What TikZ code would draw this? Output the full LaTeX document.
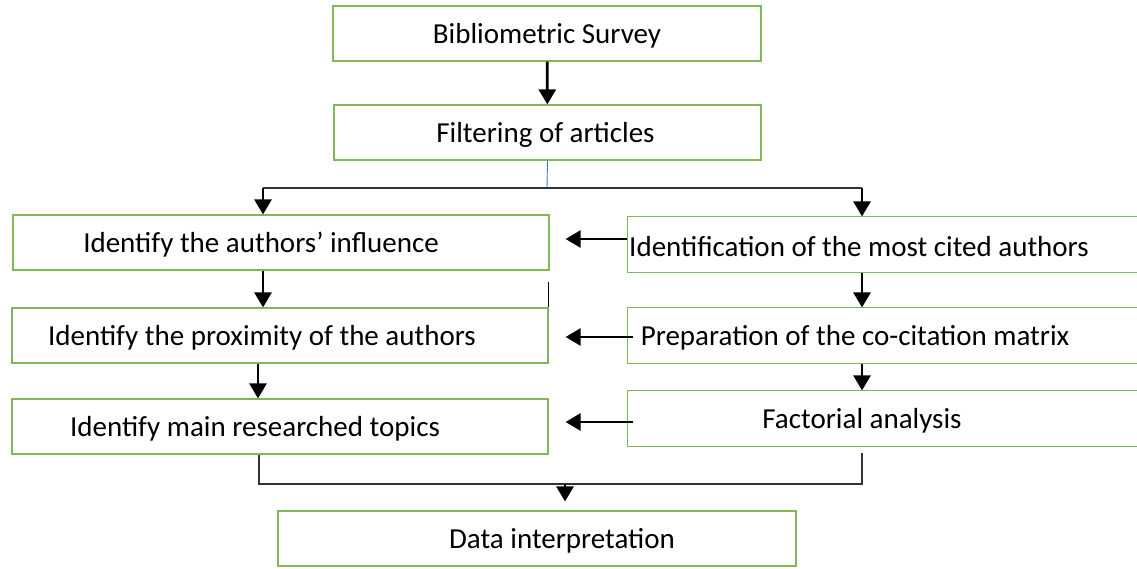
\documentclass[tikz,border=0pt]{standalone}
\usepackage{fontspec}
\setmainfont{Carlito}
\usepackage{tikz}
\usetikzlibrary{arrows.meta, positioning}
\definecolor{boxgreen}{RGB}{128,184,86}
\definecolor{splitblue}{RGB}{68,114,196}
\tikzstyle{stepbox}=[draw=boxgreen, line width=1.2pt, minimum height=55pt, inner sep=0pt, fill=white]
\tikzstyle{openbox}=[stepbox, draw=none]
\tikzstyle{every label}=[font=\fontsize{29}{35}\selectfont, inner sep=0pt, yshift=-2pt]
\tikzstyle{arr}=[line width=2.8pt, -{Triangle[width=17pt,length=15pt]}]
\tikzstyle{link}=[line width=1.3pt, black!80]

\begin{document}
\begin{tikzpicture}[x=1pt,y=-1pt]
\useasboundingbox (0,0) rectangle (1137,569);
\node[stepbox, minimum width=428pt, label={center:Bibliometric Survey}] (survey) at (547,33.5) {};
\node[stepbox, minimum width=427pt, label={[xshift=-2pt]center:Filtering of articles}] (filter) at (547.5,132.5) {};
%left column
\node[stepbox, minimum width=536pt, label={[xshift=-20pt]center:Identify the authors’ influence}] (infl) at (281,242.5) {};
\node[stepbox, minimum width=536pt, label={[xshift=-18pt]center:Identify the proximity of the authors}] (prox) at (280,335.5) {};
\node[stepbox, minimum width=536pt, label={[xshift=-25pt]center:Identify main researched topics}] (topics) at (280,426.5) {};
%right column, open on the right (runs off the page)
\node[openbox, minimum width=510pt, label={[xshift=-24pt]center:Identification of the most cited authors}] (cited) at (883,244.5) {};
\node[openbox, minimum width=510pt, label={[xshift=-28pt]center:Preparation of the co-citation matrix}] (matrix) at (883,335.5) {};
\node[openbox, minimum width=510pt, label={[xshift=-21pt]center:Factorial analysis}] (factor) at (883,418.5) {};
\foreach \b in {cited,matrix,factor}{
  \draw[boxgreen, line width=1.2pt] (\b.north east) -- (\b.north west) -- (\b.south west) -- (\b.south east);
}
\node[stepbox, minimum width=518pt, label={[xshift=25pt]center:Data interpretation}] (data) at (537,538.5) {};

\draw[arr] (survey) -- (filter);
%split
\coordinate (split) at (547,188);
\coordinate (sl) at (263,188); \coordinate (sr) at (862,188);
\draw[splitblue, line width=0.9pt] (filter.south) -- (split);
\draw[link] (sl) -- (sr);
\draw[arr] (sl) -- (sl |- infl.north);
\draw[arr] (sr) -- (sr |- cited.north);
\draw[arr] (sl |- infl.south) -- (sl |- prox.north);
\draw[arr] ([xshift=-22pt]prox.south) -- ([xshift=-22pt]topics.north);
\draw[arr] (sr |- cited.south) -- (sr |- matrix.north);
\draw[arr] (sr |- matrix.south) -- (sr |- factor.north);
\draw[line width=1.2pt] (prox.north east) -- ++(0,-25);
%right to left
\coordinate (t1) at ([yshift=5.5pt]cited.west);
\coordinate (t2) at ([xshift=6pt,yshift=-1.5pt]matrix.west);
\coordinate (t3) at ([xshift=6pt,yshift=-3.5pt]factor.west);
\draw[arr, shorten >=16pt] (t1) -- (t1 -| infl.east);
\draw[arr, shorten >=17pt] (t2) -- (t2 -| prox.east);
\draw[arr, shorten >=17pt] (t3) -- (t3 -| topics.east);
%join
\coordinate (jl) at (259,484); \coordinate (jr) at (862,484); \coordinate (jm) at (565,484);
\draw[link] (topics.south -| jl) -- (jl) -- (jr) -- ([yshift=-6pt]factor.south -| jr);
\draw[arr] (jm) -- ([yshift=9pt]data.north -| jm);
\end{tikzpicture}
\end{document}
